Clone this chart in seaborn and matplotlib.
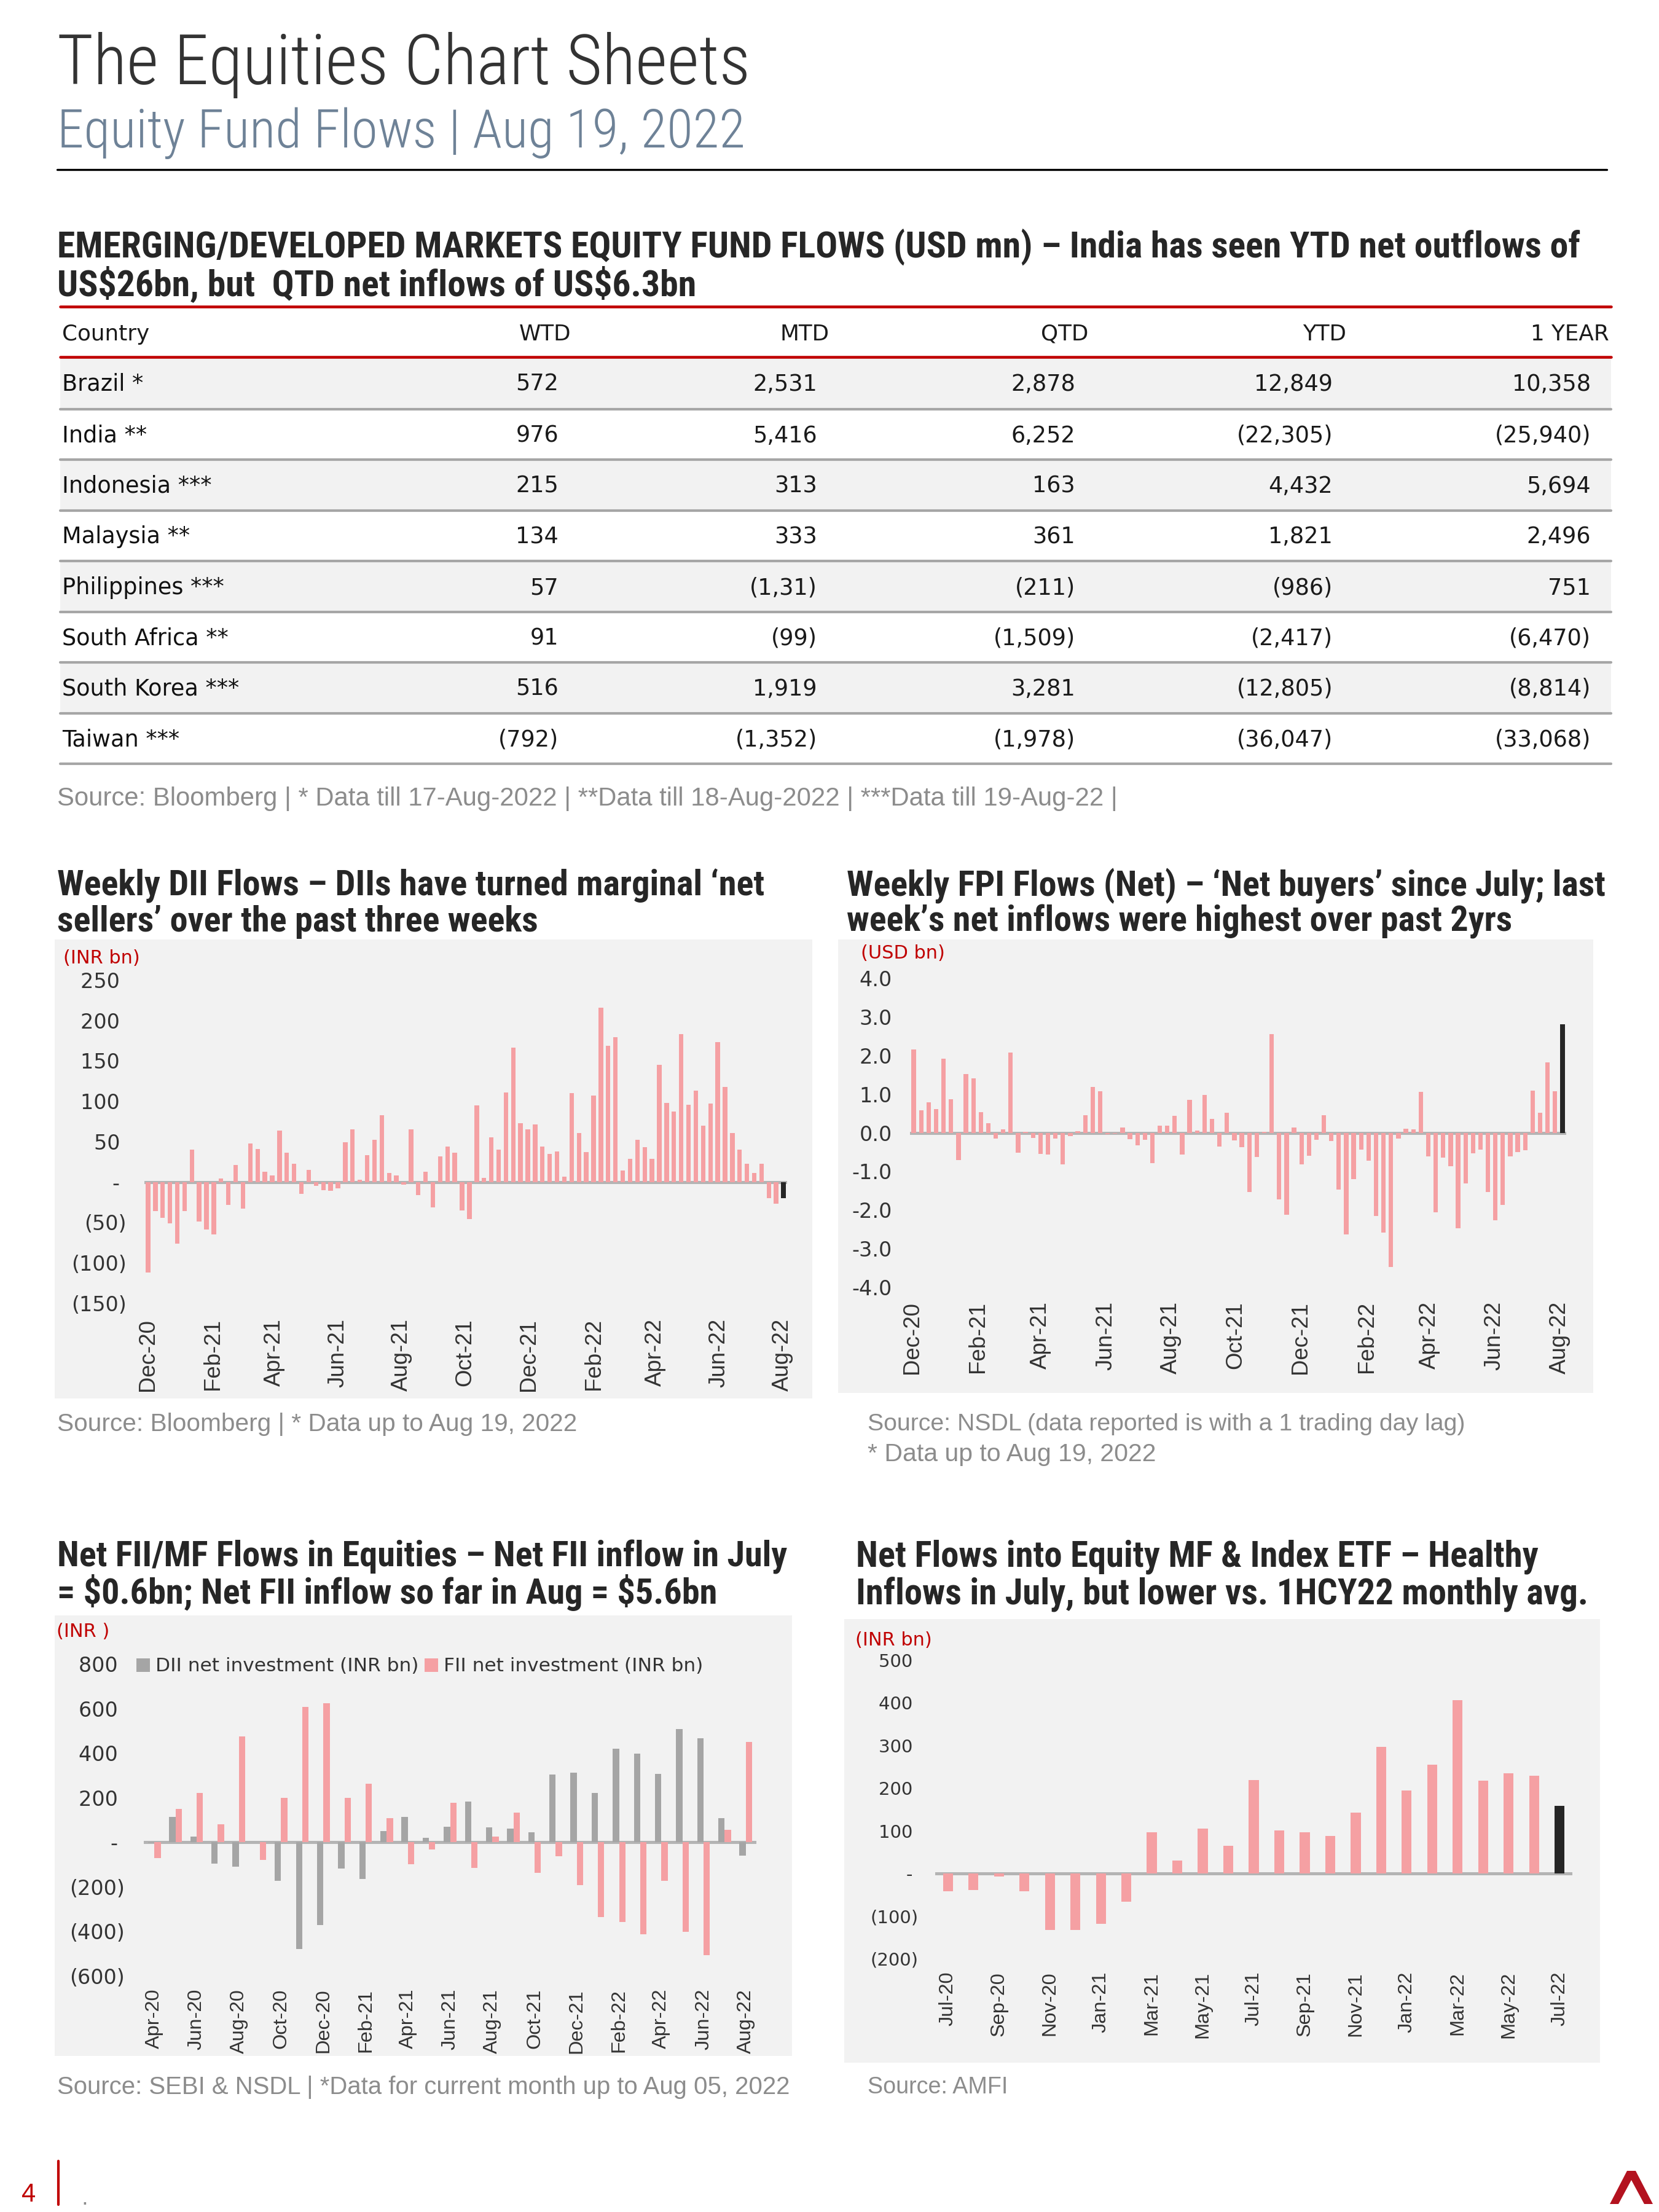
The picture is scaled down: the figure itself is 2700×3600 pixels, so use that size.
import pandas as pd
import seaborn as sns
import matplotlib.pyplot as plt
from matplotlib import font_manager as fm
from matplotlib.patches import Rectangle, Polygon

# page size in pixels (300 dpi)
W, H = 2700, 3600

# ---------------- data ----------------
countries = ['Brazil *', 'India **', 'Indonesia ***', 'Malaysia **', 'Philippines ***',
             'South Africa **', 'South Korea ***', 'Taiwan ***']
col_names = ['WTD', 'MTD', 'QTD', 'YTD', '1 YEAR']
wtd = ['572', '976', '215', '134', '57', '91', '516', '(792)']
mtd = ['2,531', '5,416', '313', '333', '(1,31)', '(99)', '1,919', '(1,352)']
qtd = ['2,878', '6,252', '163', '361', '(211)', '(1,509)', '3,281', '(1,978)']
ytd = ['12,849', '(22,305)', '4,432', '1,821', '(986)', '(2,417)', '(12,805)', '(36,047)']
one_year = ['10,358', '(25,940)', '5,694', '2,496', '751', '(6,470)', '(8,814)', '(33,068)']

# weekly DII flows (INR bn), Dec-20 .. Aug-22
dii_weekly = [-112, -36, -44, -51, -76, -36, 40, -49, -59, -65,
              4, -28, 21, -33, 48, 41, 13, 8, 64, 36,
              23, -15, 15, -5, -10, -11, -8, 49, 65, 3,
              33, 52, 83, 11, 8, -3, 65, -16, 13, -31,
              32, 44, 36, -35, -46, 95, 5, 55, 40, 111,
              166, 73, 65, 71, 44, 35, 38, 7, 110, 61,
              37, 107, 216, 169, 179, 14, 29, 52, 43, 29,
              145, 98, 87, 183, 96, 113, 70, 97, 173, 118,
              61, 40, 23, 11, 23, -20, -27, -20]

# weekly FPI flows (USD bn), Dec-20 .. Aug-22
fpi_weekly = [2.15, 0.58, 0.78, 0.61, 1.92, 0.86, -0.71, 1.52, 1.40, 0.53,
              0.25, -0.15, 0.08, 2.07, -0.52, 0.02, -0.13, -0.55, -0.56, -0.15,
              -0.82, -0.08, 0.04, 0.45, 1.18, 1.08, -0.04, -0.03, 0.13, -0.16,
              -0.32, -0.18, -0.78, 0.18, 0.19, 0.43, -0.56, 0.85, 0.05, 0.98,
              0.35, -0.36, 0.51, -0.20, -0.37, -1.53, -0.63, 0.02, 2.56, -1.73,
              -2.12, 0.13, -0.82, -0.60, -0.19, 0.46, -0.21, -1.47, -2.63, -1.20,
              -0.44, -0.73, -2.15, -2.58, -3.47, -0.15, 0.11, 0.09, 1.05, -0.61,
              -2.06, -0.65, -0.86, -2.47, -1.31, -0.53, -0.44, -1.53, -2.27, -1.87,
              -0.61, -0.50, -0.45, 1.09, 0.52, 1.82, 1.08, 2.80]

# monthly FII / DII net investment (INR bn)
fii_months = ['Apr-20', 'May-20', 'Jun-20', 'Jul-20', 'Aug-20', 'Sep-20', 'Oct-20', 'Nov-20',
              'Dec-20', 'Jan-21', 'Feb-21', 'Mar-21', 'Apr-21', 'May-21', 'Jun-21', 'Jul-21',
              'Aug-21', 'Sep-21', 'Oct-21', 'Nov-21', 'Dec-21', 'Jan-22', 'Feb-22', 'Mar-22',
              'Apr-22', 'May-22', 'Jun-22', 'Jul-22', 'Aug-22']
dii_monthly = [-3, 114, 25, -97, -109, 0, -172, -479, -370, -118, -164, 51, 113, 21, 70,
               184, 68, 61, 45, 305, 312, 220, 421, 397, 308, 509, 466, 107, -59]
fii_monthly = [-72, 150, 222, 80, 474, -80, 199, 607, 624, 199, 263, 108, -99, -33, 176,
               -116, 25, 134, -138, -62, -192, -335, -358, -413, -172, -401, -505, 55, 450]

# monthly net flows into equity MF & index ETF (INR bn)
mf_months = ['Jul-20', 'Aug-20', 'Sep-20', 'Oct-20', 'Nov-20', 'Dec-20', 'Jan-21', 'Feb-21',
             'Mar-21', 'Apr-21', 'May-21', 'Jun-21', 'Jul-21', 'Aug-21', 'Sep-21', 'Oct-21',
             'Nov-21', 'Dec-21', 'Jan-22', 'Feb-22', 'Mar-22', 'Apr-22', 'May-22', 'Jun-22',
             'Jul-22']
mf_flows = [-41, -39, -7, -41, -133, -132, -118, -66, 96, 31, 106, 65, 219, 101, 97, 88,
            143, 297, 195, 255, 406, 218, 235, 229, 158]

# ---------------- styling ----------------
PINK = '#f5a0a3'
GREY = '#a5a5a5'
DARK = '#262626'
RED = '#c00000'
PANEL = '#f2f2f2'
ZERO = '#b4b4b4'
SRC = '#8c8c8c'

sns.set_style('white')
names = {f.name for f in fm.fontManager.ttflist}
ARIAL = 'Liberation Sans' if 'Liberation Sans' in names else 'DejaVu Sans'
# a narrow face for the headings, if one is installed
NARROW = 'DejaVu Sans'
for cand in ['Liberation Sans Narrow', 'DejaVu Sans Condensed', 'Roboto Condensed',
             'Open Sans Condensed']:
    if cand in names:
        NARROW = cand
        break
plt.rcParams['font.family'] = ['DejaVu Sans']

fig = plt.figure(figsize=(9, 12), dpi=300)
fig.patch.set_facecolor('white')
page = fig.add_axes([0, 0, 1, 1], zorder=0)
page.set_xlim(0, W)
page.set_ylim(H, 0)
page.axis('off')


def fit(t, width):
    bb = t.get_window_extent(renderer=fig.canvas.get_renderer())
    t.set_fontsize(t.get_fontsize() * width / bb.width)
    return t.get_fontsize()


def head(x, y, s, size, **kw):
    return page.text(x, y, s, fontsize=size, family=NARROW, fontstretch='condensed', **kw)


def box(x0, y0, x1, y1):
    return [x0 / W, 1 - y1 / H, (x1 - x0) / W, (y1 - y0) / H]


def paren(v):
    if v == 0:
        return '- '
    if v < 0:
        return '({:,.0f})'.format(-v)
    return '{:,.0f} '.format(v)


# ---------------- header ----------------
t = head(93, 137, 'The Equities Chart Sheets', 28, color='#333333', va='baseline',
         weight='light')
fit(t, 1128)
t = head(93, 240, 'Equity Fund Flows | Aug 19, 2022', 20, color='#6e8297', va='baseline',
         weight='light')
fit(t, 1120)
page.plot([93, 2615], [276, 276], color='black', lw=0.8)

# ---------------- table ----------------
t = head(93, 403, 'EMERGING/DEVELOPED MARKETS EQUITY FUND FLOWS (USD mn) \u2013 India has seen YTD net outflows of',
         13, weight='bold', color=DARK, va='center')
fs = fit(t, 2480)
head(93, 463, r'US\$26bn, but  QTD net inflows of US\$6.3bn', fs, weight='bold',
     color=DARK, va='center')

page.plot([98, 2622], [499, 499], color=RED, lw=1.1)
page.plot([98, 2622], [581, 581], color=RED, lw=1.1)
page.text(101, 544, 'Country', fontsize=8.6, color='#1a1a1a', va='center')
head_right = [929, 1350, 1771, 2191, 2619]
for name, xr in zip(col_names, head_right):
    page.text(xr, 544, name, fontsize=8.6, color='#1a1a1a', va='center', ha='right')

cols = [wtd, mtd, qtd, ytd, one_year]
num_right = [909, 1330, 1750, 2169, 2589]
row_edges = [581, 666, 748, 831, 913, 996, 1078, 1161, 1243]
for i, name in enumerate(countries):
    top, bot = row_edges[i], row_edges[i + 1]
    if i % 2 == 0:
        page.add_patch(Rectangle((98, top), 2524, bot - top, fc=PANEL, ec='none', zorder=0))
    yc = (top + bot) / 2 + 2
    page.text(101, yc, name, fontsize=8.8, color='#111111', va='center')
    for col, xr in zip(cols, num_right):
        page.text(xr, yc, col[i], fontsize=8.8, color='#1a1a1a', va='center', ha='right')
    page.plot([98, 2622], [bot, bot], color='#a6a6a6', lw=1.0)

t = page.text(93, 1300, 'Source: Bloomberg | * Data till 17-Aug-2022 | **Data till 18-Aug-2022 | ***Data till 19-Aug-22 |',
              fontsize=9, color=SRC, family=ARIAL, va='center')
fit(t, 1725)

# ---------------- chart titles / panels / sources ----------------
titles = [
    (93, 1442, 1500, 1153, 'Weekly DII Flows \u2013 DIIs have turned marginal \u2018net',
     'sellers\u2019 over the past three weeks'),
    (1378, 1442, 1500, 1236, 'Weekly FPI Flows (Net) \u2013 \u2018Net buyers\u2019 since July; last',
     'week\u2019s net inflows were highest over past 2yrs'),
    (93, 2534, 2592, 1189, 'Net FII/MF Flows in Equities \u2013 Net FII inflow in July',
     r'= \$0.6bn; Net FII inflow so far in Aug = \$5.6bn'),
    (1393, 2534, 2594, 1113, 'Net Flows into Equity MF & Index ETF \u2013 Healthy',
     'Inflows in July, but lower vs. 1HCY22 monthly avg.'),
]
for x, y1, y2, w, l1, l2 in titles:
    t = head(x, y1, l1, 12, weight='bold', color=DARK, va='center')
    fs = fit(t, w)
    head(x, y2, l2, fs, weight='bold', color=DARK, va='center')

panels = [(89, 1529, 1322, 2276), (1364, 1529, 2593, 2267),
          (89, 2629, 1289, 3346), (1374, 2635, 2604, 3357)]
for x0, y0, x1, y1 in panels:
    page.add_patch(Rectangle((x0, y0), x1 - x0, y1 - y0, fc=PANEL, ec='none', zorder=0))

for x, y, s in [(103, 1559, '(INR bn)'), (1401, 1552, '(USD bn)'),
                (92, 2655, '(INR )'), (1392, 2670, '(INR bn)')]:
    page.text(x, y, s, fontsize=7.3, color=RED, va='center')

sources = [(93, 2318, 846, 'Source: Bloomberg | * Data up to Aug 19, 2022'),
           (1412, 2318, 975, 'Source: NSDL (data reported is with a 1 trading day lag)'),
           (1412, 2367, 470, '* Data up to Aug 19, 2022'),
           (93, 3397, 1194, 'Source: SEBI & NSDL | *Data for current month up to Aug 05, 2022'),
           (1412, 3397, 228, 'Source: AMFI')]
for x, y, w, s in sources:
    t = page.text(x, y, s, fontsize=9, color=SRC, family=ARIAL, va='center')
    fit(t, w)

# footer
page.text(47, 3572, '4', fontsize=10, color=RED, family=ARIAL, ha='center', va='center')
page.plot([95, 95], [3517, 3588], color=RED, lw=1.0)
page.text(138, 3578, '.', fontsize=8, color=SRC, ha='center', va='center')
page.add_patch(Polygon([(2620, 3587), (2648, 3533), (2662, 3533), (2690, 3587), (2676, 3587),
                        (2655, 3548), (2634, 3587)], closed=True, fc='#b3121f', ec='none'))


def style_axis(ax, ylim, yticks, ylabels, xticks, xlabels, xsize, xpad, ypad, ysize=8):
    ax.set_facecolor('none')
    for s in ax.spines.values():
        s.set_visible(False)
    ax.set_ylim(*ylim)
    ax.set_yticks(yticks)
    ax.set_yticklabels(ylabels, fontsize=ysize, color='#333333')
    ax.set_xticks(xticks)
    ax.set_xticklabels(xlabels, rotation=90, fontsize=xsize, color='#333333', family=ARIAL)
    ax.tick_params(axis='x', length=0, pad=xpad)
    ax.tick_params(axis='y', length=0, pad=ypad)
    ax.set_xlabel('')
    ax.set_ylabel('')
    ax.axhline(0, color=ZERO, lw=1.2, zorder=0.5)


# weekly axis labels
weeks = pd.date_range('2020-12-01', periods=len(dii_weekly), freq='7D')
tick_months = pd.date_range('2020-12-01', '2022-08-01', freq='2MS')
week_ticks = [(m - weeks[0]).days / 7 for m in tick_months]
week_tick_labels = [m.strftime('%b-%y') for m in tick_months]
week_labels = [w.strftime('%d-%b-%y') for w in weeks]

# ---------------- DII weekly ----------------
ax1 = fig.add_axes(box(235, 1595, 1281, 2121), zorder=2)
dii_df = pd.DataFrame({'week': week_labels, 'flow': dii_weekly})
sns.barplot(data=dii_df, x='week', y='flow', color=PINK, width=0.62, saturation=1,
            linewidth=0, ax=ax1)
ax1.patches[-1].set_facecolor(DARK)
ax1.set_xlim(-0.5, len(dii_weekly) - 0.5)
yt = list(range(-150, 251, 50))
style_axis(ax1, (-150, 250), yt, [paren(v) for v in yt], week_ticks, week_tick_labels,
           8.8, 6, 7)

# ---------------- FPI weekly ----------------
ax2 = fig.add_axes(box(1481, 1592, 2549, 2095), zorder=2)
fpi_df = pd.DataFrame({'week': week_labels, 'flow': fpi_weekly})
sns.barplot(data=fpi_df, x='week', y='flow', color=PINK, width=0.6, saturation=1,
            linewidth=0, ax=ax2)
ax2.patches[-1].set_facecolor(DARK)
ax2.set_xlim(-0.5, len(fpi_weekly) - 0.5)
yt = list(range(-4, 5))
style_axis(ax2, (-4, 4), yt, ['{:.1f}'.format(v) for v in yt],
           [p - 0.25 for p in week_ticks], week_tick_labels, 8.8, 5.5, 7)

# ---------------- FII / DII monthly ----------------
ax3 = fig.add_axes(box(234, 2708, 1231, 3216), zorder=2)
fii_df = pd.DataFrame({
    'month': fii_months * 2,
    'series': ['DII net investment (INR bn)'] * len(fii_months) + ['FII net investment (INR bn)'] * len(fii_months),
    'value': dii_monthly + fii_monthly,
})
sns.barplot(data=fii_df, x='month', y='value', hue='series', palette=[GREY, PINK],
            width=0.6, saturation=1, linewidth=0, ax=ax3)
ax3.set_xlim(-0.5, len(fii_months) - 0.5)
yt = list(range(-600, 801, 200))
style_axis(ax3, (-600, 800), yt, [paren(v) for v in yt],
           list(range(0, len(fii_months), 2)), fii_months[::2], 7.8, 5, 7.5)
h, l = ax3.get_legend_handles_labels()
ax3.legend(h, l, loc='center left', bbox_to_anchor=(222, 2712), bbox_transform=page.transData,
           ncol=2, frameon=False, prop={'size': 7.5, 'family': 'DejaVu Sans'},
           handlelength=0.7, handleheight=0.7, handletextpad=0.3, columnspacing=0.3,
           borderpad=0, borderaxespad=0, labelcolor='#333333')

# ---------------- MF & ETF monthly ----------------
ax4 = fig.add_axes(box(1522, 2702, 2559, 3188), zorder=2)
mf_df = pd.DataFrame({'month': mf_months, 'flow': mf_flows})
sns.barplot(data=mf_df, x='month', y='flow', color=PINK, width=0.39, saturation=1,
            linewidth=0, ax=ax4)
ax4.patches[-1].set_facecolor(DARK)
ax4.set_xlim(-0.5, len(mf_months) - 0.5)
yt = list(range(-200, 501, 100))
style_axis(ax4, (-200, 500), yt, [paren(v) for v in yt],
           list(range(0, len(mf_months), 2)), mf_months[::2], 7.8, 5, 6.5, ysize=7)

fig.savefig('out.png', dpi=300, facecolor='white')
